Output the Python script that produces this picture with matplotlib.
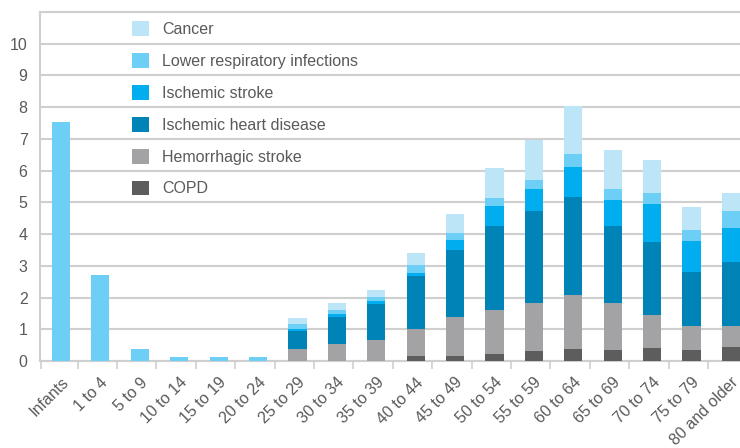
import matplotlib
matplotlib.use("Agg")
import matplotlib.pyplot as plt
import numpy as np
from matplotlib.patches import Patch

plt.rcParams['font.family'] = ['Liberation Sans', 'DejaVu Sans']

categories = ["Infants", "1 to 4", "5 to 9", "10 to 14", "15 to 19", "20 to 24",
              "25 to 29", "30 to 34", "35 to 39", "40 to 44", "45 to 49", "50 to 54",
              "55 to 59", "60 to 64", "65 to 69", "70 to 74", "75 to 79", "80 and older"]

copd        = [0, 0, 0, 0, 0, 0, 0, 0, 0, 0.16, 0.16, 0.22, 0.31, 0.38, 0.35, 0.41, 0.35, 0.44]
hemorrhagic = [0, 0, 0, 0, 0, 0, 0.38, 0.53, 0.66, 0.84, 1.22, 1.38, 1.51, 1.70, 1.47, 1.04, 0.75, 0.66]
ihd         = [0, 0, 0, 0, 0, 0, 0.57, 0.85, 1.13, 1.67, 2.11, 2.65, 2.90, 3.08, 2.43, 2.29, 1.70, 2.01]
isch_stroke = [0, 0, 0, 0, 0, 0, 0.05, 0.10, 0.10, 0.10, 0.31, 0.62, 0.69, 0.97, 0.84, 1.20, 0.97, 1.07]
lri         = [7.52, 2.70, 0.38, 0.13, 0.13, 0.13, 0.16, 0.12, 0.12, 0.25, 0.23, 0.26, 0.28, 0.38, 0.32, 0.34, 0.35, 0.54]
cancer      = [0, 0, 0, 0, 0, 0, 0.19, 0.22, 0.22, 0.38, 0.59, 0.94, 1.26, 1.54, 1.23, 1.04, 0.72, 0.56]

series_names = ["COPD", "Hemorrhagic stroke", "Ischemic heart disease",
                "Ischemic stroke", "Lower respiratory infections", "Cancer"]
series_vals = [copd, hemorrhagic, ihd, isch_stroke, lri, cancer]
colors = ["#5d5d5d", "#a3a3a5", "#0084b8", "#00aeef", "#6dcff6", "#bce5f8"]

y_ticks = list(range(0, 11))

grid_c = "#cfcfcf"
text_c = "#5a5a5a"

fig = plt.figure(figsize=(7.4, 4.48), dpi=100)
ax = fig.add_axes([40/740, 1-361/448, 1-40/740, (361-12)/448])

x = np.arange(len(categories))
bottom = np.zeros(len(categories))
for name, vals, c in zip(series_names, series_vals, colors):
    v = np.array(vals)
    ax.bar(x, v, width=0.46, bottom=bottom, color=c, label=name, zorder=3)
    bottom += v

ax.set_xlim(-0.533, 17.23)
ax.set_ylim(0, 11)

ax.set_yticks(range(0, 12))
ax.set_yticklabels([str(t) for t in y_ticks] + [""])
ax.yaxis.grid(True, color=grid_c, linewidth=1.5, zorder=0)
ax.tick_params(axis='y', length=0, pad=9, labelsize=11.5, labelcolor=text_c)

ax.set_xticks(x)
ax.set_xticklabels(categories, rotation=45, ha='right', rotation_mode='anchor')
ax.tick_params(axis='x', which='major', length=0, pad=10, labelsize=11.5, labelcolor=text_c)
minor_pos = [-0.52] + [k + 0.42 for k in range(17)]
ax.set_xticks(minor_pos, minor=True)
ax.tick_params(axis='x', which='minor', length=6, width=1.2, color=grid_c, direction='out')

ax.spines['right'].set_visible(False)
for s in ['left', 'bottom', 'top']:
    ax.spines[s].set_color(grid_c)
    ax.spines[s].set_linewidth(1.5)

handles = [Patch(facecolor=c, edgecolor='none') for c in colors][::-1]
labels = series_names[::-1]
leg = ax.legend(handles, labels, loc='upper left', bbox_to_anchor=(78/700, 1 + 5/349),
                frameon=False, fontsize=11.5, labelcolor=text_c,
                handlelength=1.05, handleheight=1.05, labelspacing=1.0,
                handletextpad=0.8, borderaxespad=0.5)

fig.savefig("out.png", dpi=100)
